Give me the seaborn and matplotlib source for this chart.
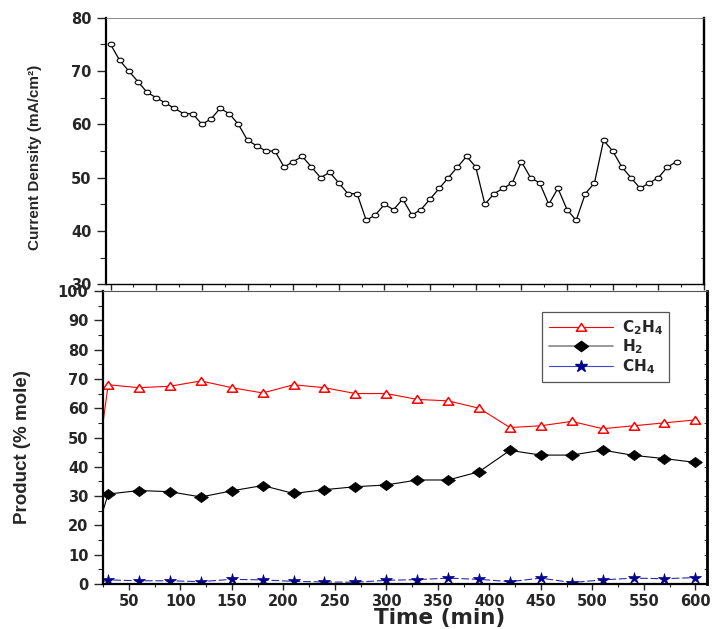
import numpy as np
import pandas as pd
import seaborn as sns
import matplotlib
matplotlib.use("Agg")
import matplotlib.pyplot as plt
from matplotlib.path import Path
from matplotlib.ticker import MultipleLocator
from matplotlib.lines import Line2D

sns.set_style("ticks")
plt.rcParams["font.family"] = ["DejaVu Sans"]
plt.rcParams["font.weight"] = "bold"
plt.rcParams["mathtext.fontset"] = "dejavusans"

# ---------------- data ----------------
cd_time = np.arange(0, 630, 10)
current_density = [75, 72, 70, 68, 66, 65, 64, 63, 62, 62,
                   60, 61, 63, 62, 60, 57, 56, 55, 55, 52,
                   53, 54, 52, 50, 51, 49, 47, 47, 42, 43,
                   45, 44, 46, 43, 44, 46, 48, 50, 52, 54,
                   52, 45, 47, 48, 49, 53, 50, 49, 45, 48,
                   44, 42, 47, 49, 57, 55, 52, 50, 48, 49,
                   50, 52, 53]

product_time = [25] + list(range(30, 630, 30))
c2h4 = [55, 68, 67, 67.5, 69.3, 67, 65.2, 68, 67, 65, 65,
        63, 62.5, 60, 53.4, 54, 55.5, 53, 54, 55, 56]
h2 = [25, 30.7, 31.9, 31.5, 29.7, 31.8, 33.6, 30.9, 32.2, 33.2, 33.8,
      35.5, 35.5, 38.3, 45.6, 44, 44, 45.7, 43.9, 42.8, 41.5]
ch4 = [0.8, 1.4, 1.1, 1.1, 0.8, 1.6, 1.4, 0.9, 0.7, 0.6, 1.25,
       1.5, 2.0, 1.6, 0.8, 2.0, 0.5, 1.4, 2.0, 1.8, 2.2]
series_labels = [r"$\mathbf{C_2H_4}$", r"$\mathbf{H_2}$", r"$\mathbf{CH_4}$"]

df_cd = pd.DataFrame({"time": cd_time, "cd": current_density})
df_p = pd.DataFrame({"time": product_time, "C2H4": c2h4, "H2": h2, "CH4": ch4})

# ---------------- markers ----------------
circ = Path.unit_circle()
ellipse = Path(circ.vertices * np.array([1.45, 1.0]), circ.codes)
tri = Path([(-1.0, -0.72), (1.0, -0.72), (0.0, 0.78), (-1.0, -0.72)],
           [Path.MOVETO, Path.LINETO, Path.LINETO, Path.CLOSEPOLY])
dia = Path([(-1.35, 0), (0, 1), (1.35, 0), (0, -1), (-1.35, 0)],
           [Path.MOVETO, Path.LINETO, Path.LINETO, Path.LINETO, Path.CLOSEPOLY])

W, H = 714, 629
fig = plt.figure(figsize=(W / 100, H / 100), dpi=100)
ax1 = fig.add_axes([106 / W, 1 - 284.3 / H, (704 - 106) / W, (284.3 - 17.7) / H])
ax2 = fig.add_axes([103 / W, 1 - 584 / H, (706.7 - 103) / W, (584 - 291) / H])

label_font = ["Liberation Sans", "DejaVu Sans"]

# ---------------- top panel ----------------
sns.lineplot(data=df_cd, x="time", y="cd", ax=ax1, color="black", linewidth=0.9,
             marker=ellipse, markersize=4.8, markerfacecolor="white",
             markeredgecolor="black", markeredgewidth=0.8)
ax1.set_xlim(-5, 650)
ax1.set_ylim(30, 80)
ax1.xaxis.set_major_locator(MultipleLocator(50))
ax1.xaxis.set_minor_locator(MultipleLocator(25))
ax1.yaxis.set_major_locator(MultipleLocator(10))
ax1.yaxis.set_minor_locator(MultipleLocator(5))
ax1.tick_params(axis="x", which="major", direction="out", length=4, width=1.0, labelbottom=False)
ax1.tick_params(axis="x", which="minor", direction="out", length=2.5, width=0.8)
ax1.tick_params(axis="y", which="major", direction="out", length=6.5, width=1.0, labelsize=10.5, pad=4)
ax1.tick_params(axis="y", which="minor", direction="out", length=4, width=0.8)
ax1.set_xlabel("")
ax1.set_ylabel("Current Density (mA/cm²)", family=label_font, fontsize=11, fontweight="bold")
ax1.yaxis.set_label_coords(-0.107, 0.477)
for s, lw, c in [("left", 1.6, "black"), ("right", 1.6, "black"),
                 ("bottom", 1.0, "black"), ("top", 0.6, "#777777")]:
    ax1.spines[s].set_linewidth(lw)
    ax1.spines[s].set_color(c)
sec1 = ax1.secondary_yaxis("right")
sec1.yaxis.set_major_locator(MultipleLocator(10))
sec1.yaxis.set_minor_locator(MultipleLocator(5))
sec1.tick_params(which="both", direction="in", length=2, width=0.6, labelright=False)
sec1.spines["right"].set_linewidth(1.6)

# ---------------- bottom panel ----------------
sns.lineplot(data=df_p, x="time", y="C2H4", ax=ax2, color="red", linewidth=0.8,
             marker=tri, markersize=7.4, markerfacecolor="white", markeredgecolor="red",
             markeredgewidth=1.1, markevery=slice(1, None))
sns.lineplot(data=df_p, x="time", y="H2", ax=ax2, color="black", linewidth=0.8,
             marker=dia, markersize=10, markerfacecolor="black", markeredgecolor="black",
             markeredgewidth=0.5, markevery=slice(1, None))
sns.lineplot(data=df_p, x="time", y="CH4", ax=ax2, color="#2a2ab0", linewidth=0.8,
             linestyle=(0, (7, 2.5)),
             marker="*", markersize=9, markerfacecolor="#00008b", markeredgecolor="#00008b",
             markeredgewidth=0.5, markevery=slice(1, None))
ax2.set_xlim(25, 611)
ax2.set_ylim(0, 100)
ax2.xaxis.set_major_locator(MultipleLocator(50))
ax2.xaxis.set_minor_locator(MultipleLocator(25))
ax2.yaxis.set_major_locator(MultipleLocator(10))
ax2.yaxis.set_minor_locator(MultipleLocator(5))
ax2.tick_params(axis="x", which="major", direction="out", length=4, width=1.0, labelsize=10.5, pad=3)
ax2.tick_params(axis="x", which="minor", direction="out", length=2.5, width=0.8)
ax2.tick_params(axis="y", which="major", direction="out", length=6.5, width=1.0, labelsize=10.5, pad=4)
ax2.tick_params(axis="y", which="minor", direction="out", length=3.5, width=0.8)
ax2.set_xlabel("Time (min)", fontsize=15.5, fontweight="bold")
ax2.xaxis.set_label_coords(0.558, -0.082)
ax2.set_ylabel("Product (% mole)", family=label_font, fontsize=13.5, fontweight="bold")
ax2.yaxis.set_label_coords(-0.12, 0.468)
for s, lw, c in [("left", 1.6, "black"), ("right", 1.8, "black"),
                 ("bottom", 1.6, "black"), ("top", 0.8, "#555555")]:
    ax2.spines[s].set_linewidth(lw)
    ax2.spines[s].set_color(c)
sec2 = ax2.secondary_yaxis("right")
sec2.yaxis.set_major_locator(MultipleLocator(10))
sec2.yaxis.set_minor_locator(MultipleLocator(5))
sec2.tick_params(which="both", direction="in", length=2, width=0.6, labelright=False)
sec2.spines["right"].set_linewidth(1.8)

handles = [
    Line2D([], [], color="red", lw=0.8, marker=tri, markersize=7.4,
           markerfacecolor="white", markeredgecolor="red", markeredgewidth=1.1),
    Line2D([], [], color="#888888", lw=1.2, marker=dia, markersize=10,
           markerfacecolor="black", markeredgecolor="black"),
    Line2D([], [], color="#4444cc", lw=0.8, marker="*", markersize=9,
           markerfacecolor="#00008b", markeredgecolor="#00008b"),
]
leg = ax2.legend(handles, series_labels, loc="upper right", bbox_to_anchor=(0.9376, 0.9283),
                 borderaxespad=0, frameon=True, fancybox=False, framealpha=1,
                 edgecolor="#555555", fontsize=11, handlelength=4.2, handletextpad=0.6,
                 borderpad=0.4, labelspacing=0.05)
leg.get_frame().set_linewidth(0.9)

fig.savefig("out.png", dpi=100)
